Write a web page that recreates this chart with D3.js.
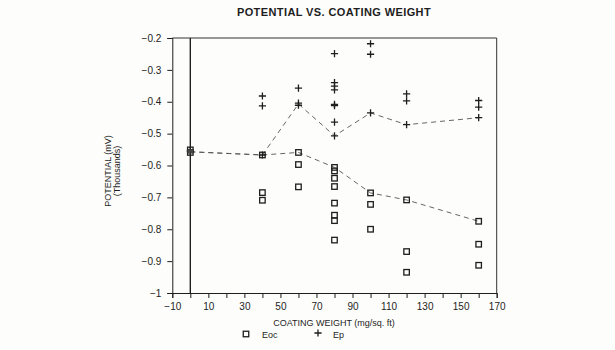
<!DOCTYPE html>
<html>
<head>
<meta charset="utf-8">
<script src="https://cdn.jsdelivr.net/npm/d3@7"></script>
<style>
  html, body { margin: 0; padding: 0; background: #fdfdfb; }
  svg { display: block; }
  text { font-family: "Liberation Sans", Arial, sans-serif; fill: #1e1e1e; }
</style>
</head>
<body>
<svg id="chart" width="615" height="350"></svg>
<script>
// ---- data ----
const xTicks = [-10, 0, 10, 20, 30, 40, 50, 60, 70, 80, 90, 100, 110, 120, 130, 140, 150, 160, 170];
const xTickLabels = [-10, 10, 30, 50, 70, 90, 110, 130, 150, 170];
const yTicks = [-1, -0.9, -0.8, -0.7, -0.6, -0.5, -0.4, -0.3, -0.2];

const eocX = [0, 0, 40, 40, 40, 60, 60, 60, 80, 80, 80, 80, 80, 80, 80, 80, 100, 100, 100, 120, 120, 120, 160, 160, 160];
const eocY = [-0.551, -0.559, -0.567, -0.685, -0.709, -0.559, -0.597, -0.667,
              -0.606, -0.617, -0.640, -0.666, -0.718, -0.756, -0.773, -0.834,
              -0.686, -0.722, -0.800, -0.708, -0.870, -0.935, -0.775, -0.847, -0.913];

const epX = [0, 40, 40, 40, 60, 60, 60, 80, 80, 80, 80, 80, 80, 80, 80, 100, 100, 100, 120, 120, 120, 160, 160, 160];
const epY = [-0.555, -0.382, -0.413, -0.567, -0.357, -0.404, -0.411,
             -0.249, -0.340, -0.351, -0.363, -0.408, -0.412, -0.464, -0.507,
             -0.218, -0.251, -0.435, -0.375, -0.397, -0.472, -0.396, -0.417, -0.450];

const meanX = [0, 40, 60, 80, 100, 120, 160];
const eocMean = [-0.557, -0.567, -0.559, -0.606, -0.686, -0.708, -0.775];
const epMean = [-0.557, -0.567, -0.407, -0.507, -0.435, -0.472, -0.450];

// ---- chart ----
const svg = d3.select("#chart");
const x = d3.scaleLinear().domain([-10, 170]).range([172.3, 496.7]);
const y = d3.scaleLinear().domain([-1, -0.2]).range([293, 38]);
const ink = "#1e1e1e";

// title
svg.append("text").attr("x", 334).attr("y", 16).attr("text-anchor", "middle")
  .attr("font-size", 11).attr("font-weight", "bold").attr("letter-spacing", 0.4)
  .text("POTENTIAL VS. COATING WEIGHT");

// frame (top/right)
svg.append("path")
  .attr("d", `M${x(-10)},${y(-0.2)}H${x(170)}V${y(-1)}`)
  .attr("fill", "none").attr("stroke", "#333").attr("stroke-width", 1);

// x axis
const xAxis = d3.axisBottom(x).tickValues(xTicks).tickSize(5)
  .tickFormat(d => xTickLabels.includes(d) ? d3.format("")(d) : "");
const gx = svg.append("g").attr("transform", `translate(0,${y(-1)})`).call(xAxis);
gx.select(".domain").attr("stroke", ink);
gx.selectAll(".tick line").attr("stroke", ink);
gx.selectAll(".tick text").attr("font-size", 10).attr("dy", "0.9em")
  .attr("font-family", "Liberation Sans, Arial, sans-serif").attr("fill", ink);

// y axis
const yAxis = d3.axisLeft(y).tickValues(yTicks).tickSize(5)
  .tickFormat(d3.format("~g"));
const gy = svg.append("g").attr("transform", `translate(${x(-10)},0)`).call(yAxis);
gy.select(".domain").attr("stroke", ink);
gy.selectAll(".tick line").attr("stroke", ink);
gy.selectAll(".tick text").attr("font-size", 10).attr("x", -11)
  .attr("font-family", "Liberation Sans, Arial, sans-serif").attr("fill", ink);

// vertical line at x = 0
svg.append("line").attr("x1", x(0)).attr("x2", x(0)).attr("y1", y(-0.2)).attr("y2", y(-1))
  .attr("stroke", ink).attr("stroke-width", 1.4);

// axis titles
svg.append("text").attr("x", 334).attr("y", 326).attr("text-anchor", "middle")
  .attr("font-size", 9).text("COATING WEIGHT (mg/sq. ft)");

const yt = svg.append("g").attr("transform", "translate(111,171) rotate(-90)");
yt.append("text").attr("x", 0).attr("y", 0).attr("text-anchor", "middle")
  .attr("font-size", 9).text("POTENTIAL (mV)");
yt.append("text").attr("x", 0).attr("y", 9).attr("text-anchor", "middle")
  .attr("font-size", 9).text("(Thousands)");

// mean lines
const line = d3.line().x(d => x(d[0])).y(d => y(d[1]));
[eocMean, epMean].forEach(vals => {
  svg.append("path").datum(meanX.map((mx, i) => [mx, vals[i]]))
    .attr("d", line).attr("fill", "none").attr("stroke", "#555")
    .attr("stroke-width", 0.9).attr("stroke-dasharray", "5,4");
});

// markers
const sq = 5.5, pl = 3.6;
function square(g, cx, cy) {
  g.append("rect").attr("x", cx - sq / 2).attr("y", cy - sq / 2)
    .attr("width", sq).attr("height", sq).attr("fill", "none")
    .attr("stroke", ink).attr("stroke-width", 1.3);
}
function plus(g, cx, cy) {
  g.append("path").attr("d", `M${cx - pl},${cy}H${cx + pl}M${cx},${cy - pl}V${cy + pl}`)
    .attr("stroke", ink).attr("stroke-width", 1.3).attr("fill", "none");
}
const gm = svg.append("g");
eocX.forEach((vx, i) => square(gm, x(vx), y(eocY[i])));
epX.forEach((vx, i) => plus(gm, x(vx), y(epY[i])));
// dark overlap at x=0
gm.append("rect").attr("x", x(0) - 3).attr("y", y(-0.549) ).attr("width", 6)
  .attr("height", y(-0.562) - y(-0.549)).attr("fill", "#444");

// legend
square(svg, 246, 334);
svg.append("text").attr("x", 262).attr("y", 337.5).attr("font-size", 9).text("Eoc");
plus(svg, 318, 333);
svg.append("text").attr("x", 333).attr("y", 337.5).attr("font-size", 9).text("Ep");
</script>
</body>
</html>
